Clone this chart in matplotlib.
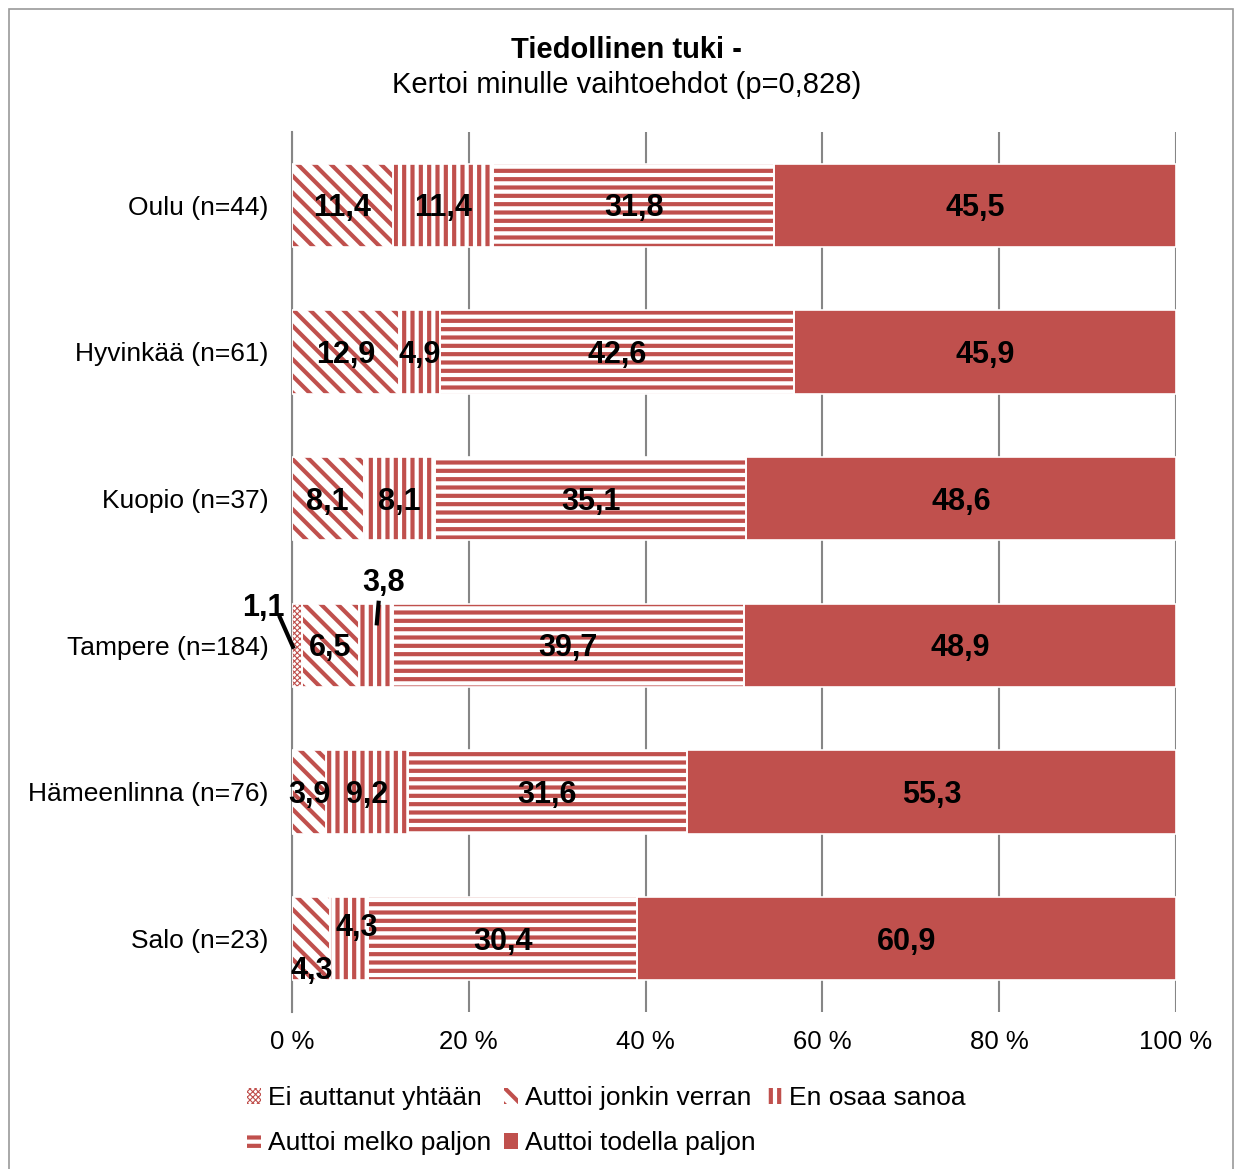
import numpy as np
import matplotlib.pyplot as plt
from matplotlib.patches import Patch, Rectangle

plt.rcParams['font.family'] = ['Liberation Sans', 'DejaVu Sans']
plt.rcParams['hatch.linewidth'] = 3.0

cities = ['Oulu (n=44)', 'Hyvinkää (n=61)', 'Kuopio (n=37)', 'Tampere (n=184)',
          'Hämeenlinna (n=76)', 'Salo (n=23)']
answers = ['Ei auttanut yhtään', 'Auttoi jonkin verran', 'En osaa sanoa',
           'Auttoi melko paljon', 'Auttoi todella paljon']

ei_auttanut = [0, 0, 0, 1.1, 0, 0]
jonkin_verran = [11.4, 12.9, 8.1, 6.5, 3.9, 4.3]
en_osaa = [11.4, 4.9, 8.1, 3.8, 9.2, 4.3]
melko_paljon = [31.8, 42.6, 35.1, 39.7, 31.6, 30.4]
todella_paljon = [45.5, 45.9, 48.6, 48.9, 55.3, 60.9]

series = np.array([ei_auttanut, jonkin_verran, en_osaa, melko_paljon, todella_paljon])
shares = series / series.sum(axis=0) * 100  # 100 % stacked

red = '#C0504D'
hatches = ['xxxxxx', '\\\\', '||', '--', None]

fig = plt.figure(figsize=(12.35, 11.69), dpi=100)
ax = fig.add_axes([0.2364, 0.1343, 0.7158, 0.7528])

y = np.arange(len(cities))
left = np.zeros(len(cities))
handles = []
for i, name in enumerate(answers):
    if hatches[i] is None:
        bars = ax.barh(y, shares[i], left=left, height=0.57, color=red,
                       edgecolor='white', linewidth=1.2, zorder=3)
        h = Patch(facecolor=red, edgecolor='none')
    else:
        bars = ax.barh(y, shares[i], left=left, height=0.57, facecolor='white',
                       edgecolor=red, linewidth=0, hatch=hatches[i], zorder=3)
        ax.barh(y, shares[i], left=left, height=0.57, facecolor='none',
                edgecolor='white', linewidth=1.2, zorder=4)
        h = Patch(facecolor='white', edgecolor=red, linewidth=0, hatch=hatches[i])
        if i == 0 and hasattr(bars[3], 'set_hatch_linewidth'):
            for b in bars:
                b.set_hatch_linewidth(0.8)
    handles.append(h)

    for j, v in enumerate(series[i]):
        if v == 0:
            continue
        cx = left[j] + shares[i][j] / 2
        cy = y[j] + 0.02
        lab = f'{v:.1f}'.replace('.', ',')
        # small segments get their labels moved out of the way
        if i == 0 and j == 3:
            cx, cy = -3.2, 2.745
            ax.plot([-1.36, 0.11], [2.81, 3.01], color='black', lw=3,
                    zorder=6, clip_on=False)
        elif i == 2 and j == 3:
            cx, cy = 10.4, 2.575
            ax.plot([9.8, 9.6], [2.71, 2.85], color='black', lw=3, zorder=6)
        elif i == 1 and j == 5:
            cx, cy = 2.2, 5.22
        elif i == 2 and j == 5:
            cx, cy = 7.35, 4.93
        ax.text(cx, cy, lab, ha='center', va='center', fontsize=22,
                fontweight='bold', zorder=7, clip_on=False)
    left += shares[i]

ax.set_xlim(0, 100)
ax.set_ylim(5.5, -0.5)
ax.set_yticks(y)
ax.set_yticklabels(cities, fontsize=19)
ax.set_xticks([0, 20, 40, 60, 80, 100])
ax.set_xticklabels([f'{t} %' for t in [0, 20, 40, 60, 80, 100]], fontsize=18.5)
ax.tick_params(axis='both', length=0)
ax.tick_params(axis='x', pad=13)
ax.tick_params(axis='y', pad=17)
ax.grid(axis='x', color='#868686', linewidth=1.5, zorder=0)
for s in ['top', 'right', 'bottom']:
    ax.spines[s].set_visible(False)
ax.spines['left'].set_color('#868686')
ax.spines['left'].set_linewidth(1.5)

fig.text(0.507, 0.957, 'Tiedollinen tuki -', ha='center', va='center',
         fontsize=21, fontweight='bold')
fig.text(0.507, 0.927, 'Kertoi minulle vaihtoehdot (p=0,828)', ha='center',
         va='center', fontsize=21)

order = [0, 3, 1, 4, 2]
leg = fig.legend([handles[k] for k in order], [answers[k] for k in order],
                 ncol=3, loc='upper left', bbox_to_anchor=(0.189, 0.082),
                 frameon=False, fontsize=19, handlelength=0.55,
                 handleheight=0.55, handletextpad=0.25, columnspacing=0.48,
                 labelspacing=0.8, borderpad=0)
for p in leg.get_patches():
    if p.get_hatch() == 'xxxxxx' and hasattr(p, 'set_hatch_linewidth'):
        p.set_hatch_linewidth(0.8)

fig.patches.append(Rectangle((9 / 1235, -0.05), 1224 / 1235, 1.05 - 9 / 1169,
                             transform=fig.transFigure, fill=False,
                             edgecolor='#9a9a9a', linewidth=1.2))

fig.savefig('out.png', dpi=100)
